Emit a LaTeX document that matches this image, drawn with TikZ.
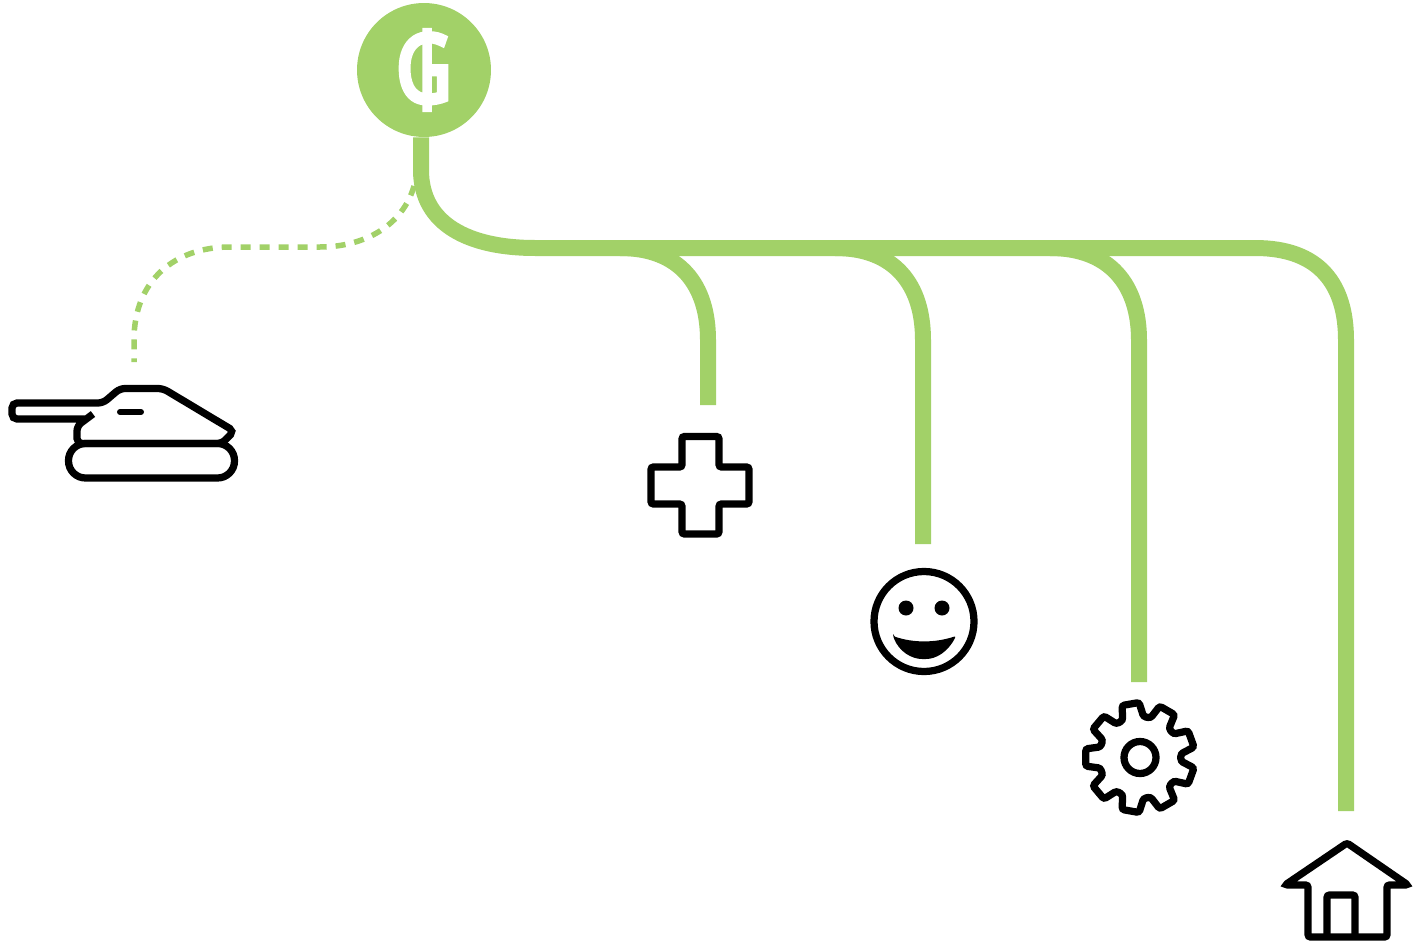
\documentclass[tikz,border=0pt]{standalone}
\usepackage{fontspec}
\usepackage{xcolor}
\usetikzlibrary{
    arrows.meta,
    positioning,
    calc
}
\newfontfamily\coinfont[FakeStretch=0.8,FakeBold=5]{Noto Sans}
\definecolor{leafGreen}{RGB}{162,209,104}
\tikzset{
  hub/.style     = {circle, fill=leafGreen, minimum size=2.68cm, inner sep=0pt,
                    text=white, font=\coinfont\bfseries\fontsize{54}{54}\selectfont},
  pipe/.style    = {leafGreen, line width=0.32cm},
  dashpipe/.style= {leafGreen, line width=0.11cm, dash pattern=on 0.2cm off 0.18cm},
  icon/.style    = {draw=black, line width=0.145cm, rounded corners=0.05cm}
}

\begin{document}
\begin{tikzpicture}[x=0.02cm, y=-0.02cm]
\useasboundingbox (0,0) rectangle (1413,946);

% hub
\node[hub] (coin) at (424,70) {₲};

% free ends of the pipes
\coordinate (tankEnd) at (134,362);
\coordinate (plusEnd) at (708,405);
\coordinate (faceEnd) at (923,544);
\coordinate (gearEnd) at (1139,682);
\coordinate (homeEnd) at (1346,811);
\coordinate (dashStart) at (414,186);

% dashed pipe
\draw[dashpipe] (dashStart) .. controls (403,225) and (365,247) .. (320,247)
    -- (230,247) .. controls (175,247) and (134,280) .. (134,340) -- (tankEnd);

% trunk
\draw[pipe] ([xshift=-0.06cm]coin.south) -- (421,170)
    .. controls (421,225) and (470,248) .. (535,248)
    -- (1255,248) .. controls (1320,248) and (1346,285) .. (1346,340) -- (homeEnd);

% branches
\draw[pipe] (620,248) .. controls (680,248) and (708,285) .. (708,340) -- (plusEnd);
\draw[pipe] (835,248) .. controls (895,248) and (923,285) .. (923,340) -- (faceEnd);
\draw[pipe] (1050,248) .. controls (1110,248) and (1139,285) .. (1139,340) -- (gearEnd);

% tank
\draw[icon, rounded corners=0.34cm] (68.5,443.5) rectangle (234.5,478);
\draw[icon, rounded corners=0.1cm] (93,414) -- (77,426) -- (77,443.5) -- (222,443.5) -- (234,431)
    -- (163,388.5) -- (120,388.5) -- (103,403) -- (12,403) -- (12,419) -- (85,419);
\draw[black, line width=0.12cm, line cap=round] (120,412) -- (141,412);

% plus
\draw[icon] (700,436.5) -- (719,436.5) -- (719,467) -- (749,467) -- (749,504)
    -- (719,504) -- (719,534) -- (682,534) -- (682,504) -- (651,504) -- (651,467)
    -- (682,467) -- (682,436.5) -- (700,436.5);

% face
\draw[icon] (924,621.5) circle (50);
\fill (906,608) circle (7.5);
\fill (942,608) circle (7.5);
\fill[rounded corners=0.04cm] (893,636) .. controls (913,643) and (935,643) .. (956,636)
    .. controls (948,652) and (936,659) .. (924,659) .. controls (912,659) and (899,652) .. (893,636) -- cycle;

% gear
\begin{scope}[shift={(1140,757.5)}]
\draw[icon, line cap=round] (160:41)
    \foreach \a in {180,220,...,500} { -- ({\a-15}:41) -- ({\a-9}:55) -- ({\a+9}:55) -- ({\a+15}:41) } -- (160:41);
\draw[black, line width=0.145cm] (0,0) circle (16);
\end{scope}

% home
\draw[icon, line cap=round] (1316,864) -- (1347,843) -- (1408,885) -- (1387,885) -- (1387,937) -- (1308,937)
    -- (1308,885) -- (1285,885) -- (1316,864);
\draw[icon] (1327,937) -- (1327,895) -- (1355,895) -- (1355,937);
\end{tikzpicture}
\end{document}
